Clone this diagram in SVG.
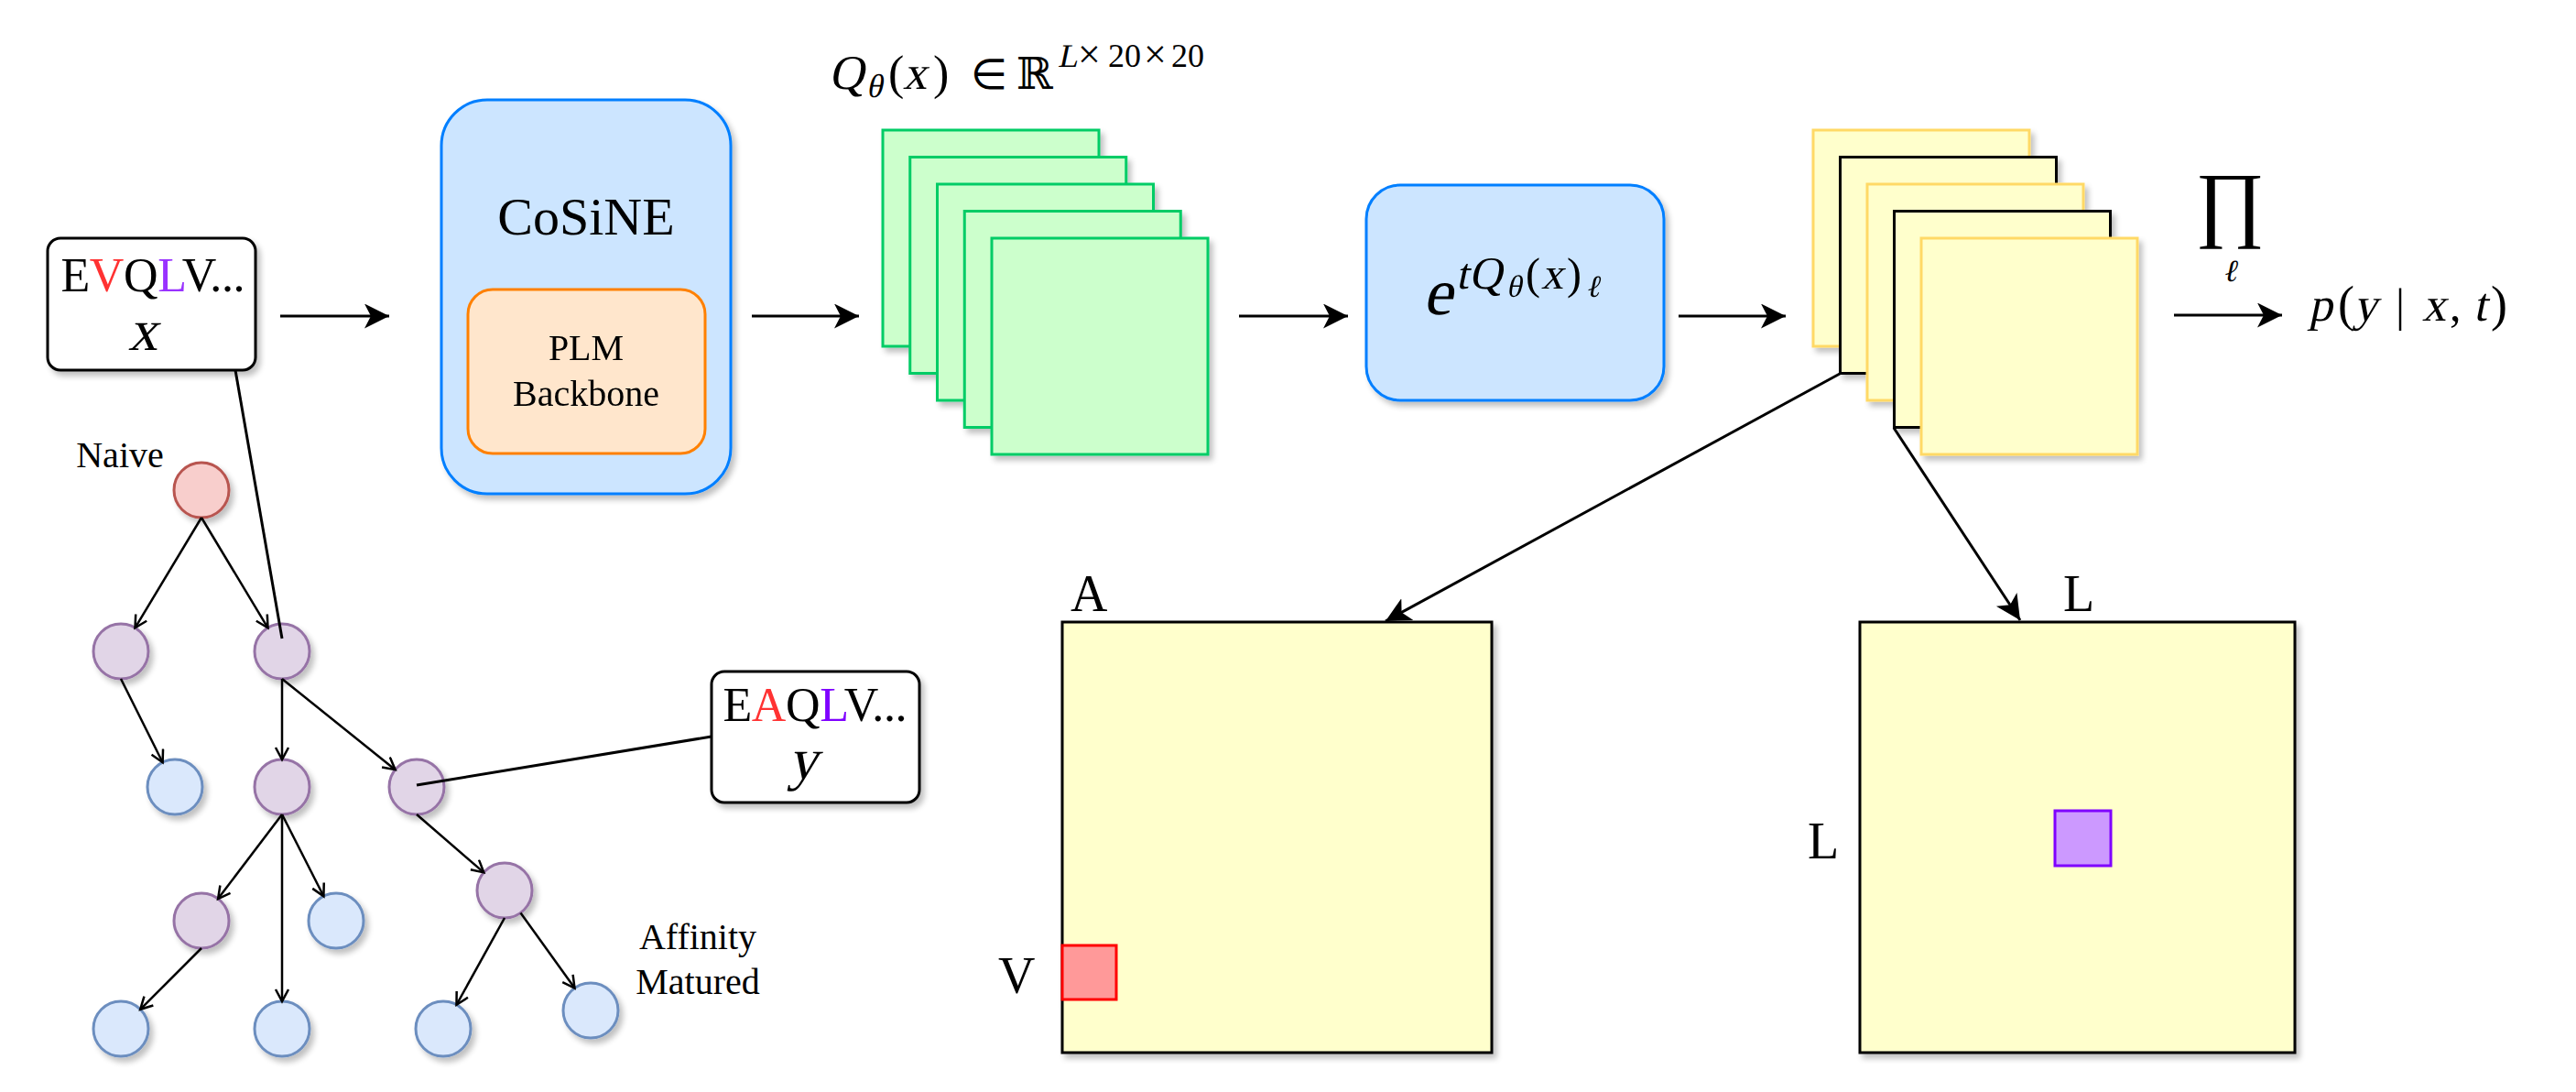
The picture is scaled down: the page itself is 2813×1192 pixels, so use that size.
<svg xmlns="http://www.w3.org/2000/svg" width="2813" height="1192" viewBox="0 0 2813 1192">
<style>
.t{font-family:"Liberation Serif","Times New Roman",serif;fill:#000}
.m{font-family:"Liberation Serif","Times New Roman",serif;fill:#000}
.box{stroke:#000;stroke-width:3;fill:#fff}
.blue{fill:#cce5ff;stroke:#007fff;stroke-width:3}
.orange{fill:#ffe6cc;stroke:#ff8000;stroke-width:3}
.green{fill:#ccffcc;stroke:#00cc66;stroke-width:3}
.yel{fill:#ffffcc;stroke:#ffd966;stroke-width:3}
.yelk{fill:#ffffcc;stroke:#000;stroke-width:3}
.naive{fill:#f8cecc;stroke:#b85450;stroke-width:3}
.pur{fill:#e1d5e7;stroke:#9673a6;stroke-width:3}
.blu{fill:#dae8fc;stroke:#6c8ebf;stroke-width:3}
.ln{stroke:#000;stroke-width:3;fill:none}
.tl{stroke:#000;stroke-width:2.5;fill:none;marker-end:url(#oh)}
.al{stroke:#000;stroke-width:3;fill:none;marker-end:url(#ah)}
</style>
<defs>
<filter id="sh" filterUnits="userSpaceOnUse" x="0" y="0" width="2813" height="1192">
<feGaussianBlur in="SourceAlpha" stdDeviation="3"/>
<feOffset dx="4" dy="5"/>
<feComponentTransfer><feFuncA type="linear" slope="0.25"/></feComponentTransfer>
<feMerge><feMergeNode/><feMergeNode in="SourceGraphic"/></feMerge>
</filter>
<marker id="ah" markerUnits="userSpaceOnUse" markerWidth="30" markerHeight="30" refX="27" refY="13.5" orient="auto">
<path d="M0,0 L27,13.5 L0,27 L7,13.5 Z" fill="#000"/>
</marker>
<marker id="oh" markerUnits="userSpaceOnUse" markerWidth="18" markerHeight="18" refX="14" refY="8" orient="auto">
<path d="M1,1 L14,8 L1,15" fill="none" stroke="#000" stroke-width="2.5"/>
</marker>
</defs>
<rect width="2813" height="1192" fill="#fff"/>

<g id="seq-x" filter="url(#sh)">
<rect class="box" x="52" y="260" width="227" height="144" rx="14"/>
<text class="t" x="167" y="318" font-size="52" text-anchor="middle" textLength="201">E<tspan fill="#ff3333">V</tspan>Q<tspan fill="#9933ff">L</tspan>V...</text>
<g transform="matrix(1 0 -0.21 1 80.2 0)"><text class="m" x="156" y="382" font-size="64" text-anchor="middle">x</text></g>
</g>

<g id="cosine" filter="url(#sh)">
<rect class="blue" x="482" y="109" width="316" height="430" rx="50"/>
<text class="t" x="640" y="256" font-size="58" text-anchor="middle">CoSiNE</text>
<rect class="orange" x="511" y="316" width="259" height="179" rx="27"/>
<text class="t" x="640" y="393" font-size="40" text-anchor="middle">PLM</text>
<text class="t" x="640" y="443" font-size="40" text-anchor="middle">Backbone</text>
</g>

<g id="q-label">
<g transform="matrix(1 0 -0.21 1 20.4 0)"><text class="m" x="905" y="97" font-size="53">Q</text><text class="m" x="986" y="97" font-size="52">x</text></g>
<g transform="matrix(1 0 -0.21 1 22.3 0)"><text class="m" x="946" y="106" font-size="36">θ</text></g>
<g transform="matrix(1 0 -0.21 1 15.3 0)"><text class="m" x="1155" y="73" font-size="36">L</text></g>
<text class="t" x="970" y="97" font-size="52">(</text>
<text class="t" x="1019" y="97" font-size="52">)</text>
<text class="t" x="1060" y="97" font-size="46">∈</text>
<text x="1110" y="97" font-size="48" font-family="DejaVu Serif, serif">ℝ</text>
<text class="t" x="1177" y="74" font-size="44">×</text>
<text class="t" x="1210" y="73" font-size="36">20</text>
<text class="t" x="1249" y="74" font-size="44">×</text>
<text class="t" x="1279" y="73" font-size="36">20</text>
</g>

<g id="q-stack" filter="url(#sh)">
<rect class="green" x="964" y="142" width="236" height="236"/>
<rect class="green" x="993.75" y="171.5" width="236" height="236"/>
<rect class="green" x="1023.5" y="201" width="236" height="236"/>
<rect class="green" x="1053.25" y="230.5" width="236" height="236"/>
<rect class="green" x="1083" y="260" width="236" height="236"/>
</g>

<g id="exp" filter="url(#sh)">
<rect class="blue" x="1492" y="202" width="325" height="235" rx="37"/>
<g transform="matrix(1 0 -0.21 1 72 0)"><text class="m" x="1554" y="343" font-size="72">e</text></g>
<g transform="matrix(1 0 -0.21 1 66.15 0)"><text class="m" x="1590" y="315" font-size="48">t</text><text class="m" x="1604" y="315" font-size="50">Q</text><text class="m" x="1683" y="315" font-size="48">x</text></g>
<g transform="matrix(1 0 -0.21 1 68 0)"><text class="m" x="1645" y="324" font-size="34">θ</text><text class="m" x="1731" y="324" font-size="34">ℓ</text></g>
<text class="t" x="1666" y="315" font-size="48">(</text>
<text class="t" x="1711" y="315" font-size="48">)</text>
</g>

<g id="p-stack" filter="url(#sh)">
<rect class="yel" x="1980" y="142" width="236" height="236"/>
<rect class="yelk" x="2009.5" y="171.5" width="236" height="236"/>
<rect class="yel" x="2039" y="201" width="236" height="236"/>
<rect class="yelk" x="2068.5" y="230.5" width="236" height="236"/>
<rect class="yel" x="2098" y="260" width="236" height="236"/>
</g>

<g id="prod">
<text class="t" x="2435" y="252" font-size="92" text-anchor="middle">∏</text>
<g transform="matrix(1 0 -0.21 1 64.5 0)"><text class="m" x="2435" y="307" font-size="34" text-anchor="middle">ℓ</text></g>
</g>

<g id="output">
<g transform="matrix(1 0 -0.21 1 73.5 0)">
<text class="m" x="2521" y="350" font-size="52">p</text>
<text class="m" x="2570" y="350" font-size="52">y</text>
<text class="m" x="2645" y="350" font-size="52">x</text>
<text class="m" x="2701" y="350" font-size="52">t</text>
</g>
<text class="t" x="2553" y="350" font-size="54">(</text>
<text class="t" x="2616" y="350" font-size="50">|</text>
<text class="t" x="2675" y="350" font-size="50">,</text>
<text class="t" x="2720" y="350" font-size="54">)</text>
</g>

<g id="matrix-a" filter="url(#sh)">
<rect class="yelk" x="1160" y="679" width="469" height="470" stroke-width="3.5"/>
<rect x="1160" y="1032" width="59" height="59" fill="#ff9999" stroke="#ff0000" stroke-width="3"/>
</g>
<g id="label-a"><text class="t" x="1169" y="667" font-size="56">A</text><text class="t" x="1090" y="1084" font-size="56">V</text></g>

<g id="matrix-l" filter="url(#sh)">
<rect class="yelk" x="2031" y="679" width="475" height="470" stroke-width="3.5"/>
<rect x="2244" y="885" width="61" height="60" fill="#cc99ff" stroke="#7f00ff" stroke-width="3"/>
</g>
<g id="label-l"><text class="t" x="2253" y="667" font-size="56">L</text><text class="t" x="1974" y="937" font-size="56">L</text></g>

<g id="seq-y" filter="url(#sh)">
<rect class="box" x="777" y="733" width="227" height="143" rx="14"/>
<text class="t" x="890" y="787" font-size="52" text-anchor="middle" textLength="201">E<tspan fill="#ff3333">A</tspan>Q<tspan fill="#7f00ff">L</tspan>V...</text>
<g transform="matrix(1 0 -0.21 1 178.5 0)"><text class="m" x="877" y="850" font-size="64" text-anchor="middle">y</text></g>
</g>

<g id="tree-labels">
<text class="t" x="131" y="510" font-size="40" text-anchor="middle">Naive</text>
<text class="t" x="762" y="1036" font-size="40" text-anchor="middle">Affinity</text>
<text class="t" x="762" y="1085" font-size="40" text-anchor="middle">Matured</text>
</g>

<g id="tree-nodes" filter="url(#sh)">
<circle id="n0" class="naive" cx="220" cy="535" r="30"/>
<circle id="n1a" class="pur" cx="132" cy="711" r="30"/>
<circle id="n1b" class="pur" cx="308" cy="711" r="30"/>
<circle id="n2a" class="blu" cx="191" cy="859" r="30"/>
<circle id="n2b" class="pur" cx="308" cy="859" r="30"/>
<circle id="n2c" class="pur" cx="455" cy="859" r="30"/>
<circle id="n3a" class="pur" cx="220" cy="1005" r="30"/>
<circle id="n3b" class="blu" cx="367" cy="1005" r="30"/>
<circle id="n3c" class="pur" cx="551" cy="972" r="30"/>
<circle id="n4a" class="blu" cx="132" cy="1123" r="30"/>
<circle id="n4b" class="blu" cx="308" cy="1123" r="30"/>
<circle id="n4c" class="blu" cx="484" cy="1123" r="30"/>
<circle id="n4d" class="blu" cx="645" cy="1103" r="30"/>
</g>

<g id="connectors">
<line class="al" x1="306" y1="345" x2="425" y2="345"/>
<line class="al" x1="821" y1="345" x2="938" y2="345"/>
<line class="al" x1="1353" y1="345" x2="1472" y2="345"/>
<line class="al" x1="1833" y1="345" x2="1950" y2="345"/>
<line class="al" x1="2374" y1="344" x2="2492" y2="344"/>
<line class="al" x1="2009" y1="408" x2="1513" y2="678"/>
<line class="al" x1="2068" y1="467" x2="2206" y2="677"/>
<line class="ln" x1="257" y1="404" x2="308" y2="697"/>
<line class="ln" x1="455" y1="857" x2="777" y2="804"/>
<line class="tl" x1="220" y1="565" x2="147.5" y2="685.3"/>
<line class="tl" x1="220" y1="565" x2="292.5" y2="685.3"/>
<line class="tl" x1="132" y1="741" x2="177.6" y2="832.2"/>
<line class="tl" x1="308" y1="741" x2="308" y2="829"/>
<line class="tl" x1="308" y1="741" x2="431.6" y2="840.2"/>
<line class="tl" x1="308" y1="889" x2="238.1" y2="981.1"/>
<line class="tl" x1="308" y1="889" x2="308" y2="1093"/>
<line class="tl" x1="308" y1="889" x2="353.4" y2="978.3"/>
<line class="tl" x1="455" y1="889" x2="528.3" y2="952.4"/>
<line class="tl" x1="220" y1="1035" x2="153.2" y2="1101.8"/>
<line class="tl" x1="551" y1="1002" x2="498.5" y2="1096.8"/>
<line class="tl" x1="568.5" y1="996.4" x2="627.5" y2="1078.6"/>
</g>
</svg>
